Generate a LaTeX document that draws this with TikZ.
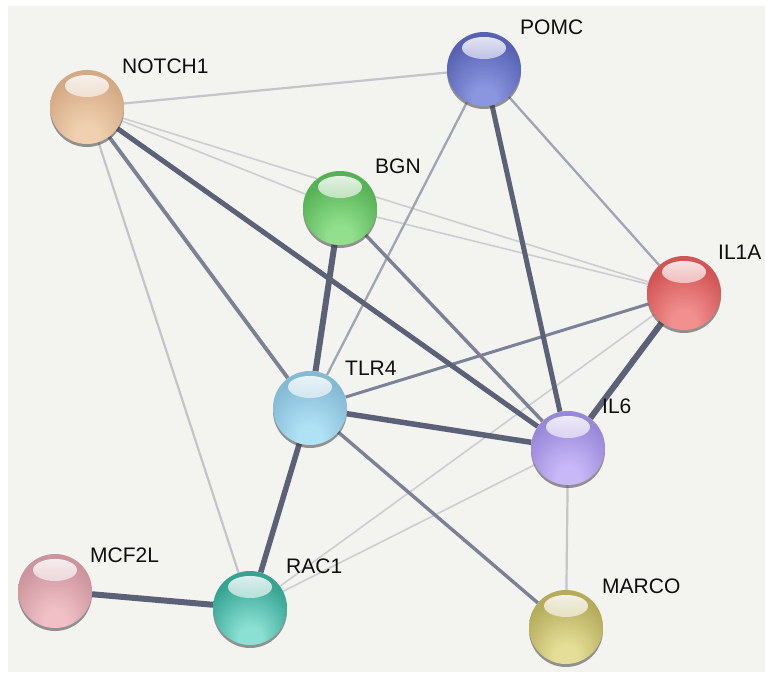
\documentclass[tikz,border=0pt]{standalone}
\usepackage{fontspec}
\setmainfont{Liberation Sans}
\usetikzlibrary{shadows,fadings}
\pgfdeclarelayer{bg}
\pgfsetlayers{bg,main}
\pgfdeclareradialshading[ballL,ballM,ballD]{glossy}{\pgfpoint{0bp}{-24bp}}{%
  color(0bp)=(ballL); color(8bp)=(ballL); color(30bp)=(ballM); color(43bp)=(ballM); color(52bp)=(ballD)}
\tikzfading[name=hlfade, top color=transparent!10, bottom color=transparent!100]
\definecolor{bggray}{RGB}{243,243,239}
\definecolor{ethin}{RGB}{206,206,210}
\definecolor{elight}{RGB}{196,196,202}
\definecolor{emid1}{RGB}{160,164,180}
\definecolor{emid}{RGB}{124,129,150}
\definecolor{ethick}{RGB}{92,97,120}
\definecolor{txt}{RGB}{15,15,15}
\tikzset{
  ball/.style n args={3}{circle, minimum size=74pt, inner sep=0pt,
    /utils/exec={\definecolor{ballL}{HTML}{#1}\definecolor{ballM}{HTML}{#2}\definecolor{ballD}{HTML}{#3}},
    shading=glossy,
    drop shadow={shadow xshift=0pt, shadow yshift=-3pt, fill=black!75, opacity=0.55},
    path picture={\fill[white, path fading=hlfade]
      ([yshift=21pt]path picture bounding box.center) ellipse [x radius=22pt, y radius=11pt];}},
  lbl/.style={anchor=base west, inner sep=0pt, text=txt, font=\fontsize{21}{24}\selectfont},
  thinedge/.style={draw=ethin, line width=1.6pt},
  lightedge/.style={draw=elight, line width=2.2pt},
  midoneedge/.style={draw=emid1, line width=2.3pt},
  midedge/.style={draw=emid, line width=3.4pt},
  thickedge/.style={draw=ethick, line width=5.5pt},
}
\begin{document}
\begin{tikzpicture}[x=1pt,y=-1pt]
\useasboundingbox (0,0) rectangle (765,674);
\begin{pgfonlayer}{bg}
\fill[white] (0,0) rectangle (765,674);
\fill[bggray] (8,6) rectangle (765,672);
\end{pgfonlayer}

\node[ball={F0D0B0}{D4AA84}{8E6442}] (NOTCH1) at (87,107) {};
\node[ball={8A96E0}{5862B4}{262E78}] (POMC) at (484,69) {};
\node[ball={92E08E}{56B254}{22701F}] (BGN) at (340,208) {};
\node[ball={F29090}{D25454}{8E161C}] (IL1A) at (684,293) {};
\node[ball={B0E2F6}{84BAD4}{386F8C}] (TLR4) at (310,408) {};
\node[ball={C8B8F8}{9888D8}{52429A}] (IL6) at (568,448) {};
\node[ball={F0C0C6}{CC949E}{864650}] (MCF2L) at (55,591) {};
\node[ball={8AE0D2}{36A492}{156455}] (RAC1) at (250,608) {};
\node[ball={E4DE98}{B4AC5A}{716B22}] (MARCO) at (566,627) {};

\node[lbl] (tNOTCH1) at (122,74) {NOTCH1};
\node[lbl] (tPOMC) at (520,35) {POMC};
\node[lbl] (tBGN) at (375,173) {BGN};
\node[lbl] (tIL1A) at (718,259) {IL1A};
\node[lbl] (tTLR4) at (345,375) {TLR4};
\node[lbl] (tIL6) at (602,413) {IL6};
\node[lbl] (tMCF2L) at (90,562) {MCF2L};
\node[lbl] (tRAC1) at (286,573) {RAC1};
\node[lbl] (tMARCO) at (602,593) {MARCO};

\begin{pgfonlayer}{bg}
\draw[thinedge] (NOTCH1) -- (BGN);
\draw[thinedge] (NOTCH1) -- (IL1A);
\draw[thinedge] (BGN) -- (IL1A);
\draw[lightedge] (NOTCH1) -- (POMC);
\draw[lightedge] (NOTCH1) -- (RAC1);
\draw[thinedge] (RAC1) -- (IL1A);
\draw[thinedge] (RAC1) -- (IL6);
\draw[lightedge] (IL6) -- (MARCO);
\draw[midoneedge] (POMC) -- (TLR4);
\draw[midoneedge] (POMC) -- (IL1A);
\draw[midedge, line width=3.8pt] (NOTCH1) -- (TLR4);
\draw[midedge] (BGN) -- (IL6);
\draw[midedge] (TLR4) -- (MARCO);
\draw[midedge, line width=3pt] (IL1A) -- (TLR4);
\draw[thickedge, line width=5pt] (NOTCH1) -- (IL6);
\draw[thickedge, line width=5pt] (POMC) -- (IL6);
\draw[thickedge, line width=6pt] (BGN) -- (TLR4);
\draw[thickedge, line width=6pt] (IL1A) -- (IL6);
\draw[thickedge] (TLR4) -- (IL6);
\draw[thickedge] (TLR4) -- (RAC1);
\draw[thickedge, line width=6pt] (MCF2L) -- (RAC1);
\end{pgfonlayer}
\end{tikzpicture}
\end{document}
